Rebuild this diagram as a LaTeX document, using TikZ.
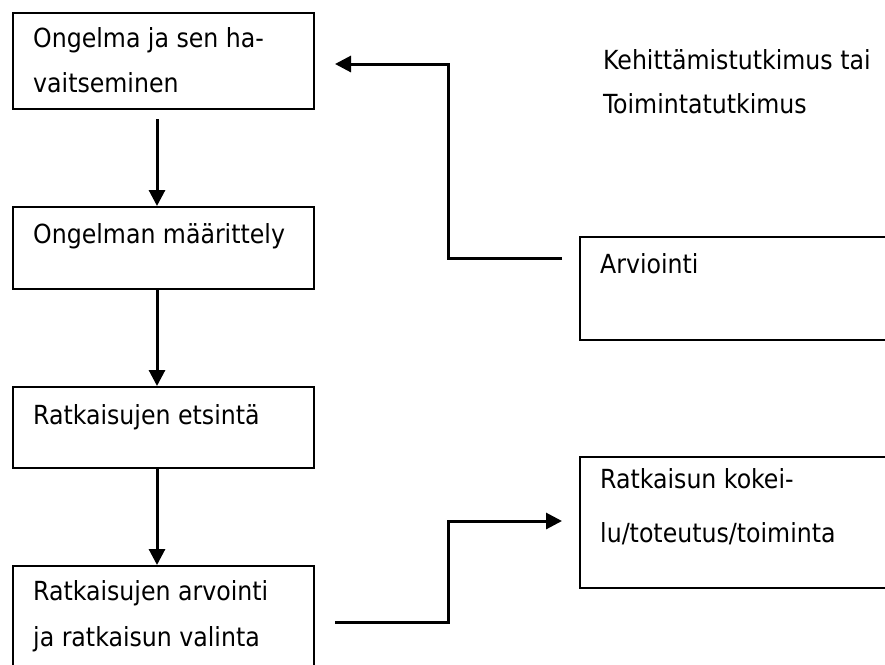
\documentclass[tikz,border=0pt]{standalone}
\usepackage{fontspec}
\setmainfont{DejaVu Sans Condensed}
\usetikzlibrary{arrows.meta,calc}
\begin{document}
\begin{tikzpicture}[x=1pt,y=-1pt,
  box/.style={draw=black,line width=2pt,rectangle,inner sep=0pt,anchor=north west},
  txt/.style={anchor=base west,inner sep=0pt,font=\fontsize{26.3}{30}\selectfont},
  conn/.style={line width=3pt,-{Triangle[length=16pt,width=16pt]}}]
\useasboundingbox (0,0) rectangle (885,664);
\clip (0,0) rectangle (885,664);
% boxes
\node[box,minimum width=301pt,minimum height=96pt] (b1) at (12,12) {};
\node[box,minimum width=301pt,minimum height=82pt] (b2) at (12,206) {};
\node[box,minimum width=301pt,minimum height=81pt] (b3) at (12,386) {};
\node[box,minimum width=301pt,minimum height=125pt] (b4) at (12,565) {};
\node[box,minimum width=330pt,minimum height=103pt] (arv) at (579,236) {};
\node[box,minimum width=330pt,minimum height=131pt] (rat) at (579,456) {};
% texts
\node[txt] (t1a) at (33,47) {Ongelma ja sen ha-};
\node[txt] (t1b) at (33,92) {vaitseminen};
\node[txt] (t2) at (33,243) {Ongelman määrittely};
\node[txt] (t3) at (33,424) {Ratkaisujen etsintä};
\node[txt] (t4a) at (33,600) {Ratkaisujen arvointi};
\node[txt] (t4b) at (33,646) {ja ratkaisun valinta};
\node[txt] (tarv) at (600,273) {Arviointi};
\node[txt] (trata) at (600,488) {Ratkaisun kokei-};
\node[txt] (tratb) at (600,542) {lu/toteutus/toiminta};
\node[txt] (kh1) at (603,69) {Kehittämistutkimus tai};
\node[txt] (kh2) at (603,113) {Toimintatutkimus};
% vertical arrows
\draw[conn] ($(b1.south west)+(145,9)$) -- ($(b2.north west)+(145,0)$);
\draw[conn] ($(b2.south west)+(145,0)$) -- ($(b3.north west)+(145,0)$);
\draw[conn] ($(b3.south west)+(145,0)$) -- ($(b4.north west)+(145,0)$);
% feedback from Arviointi
\coordinate (fbs) at ($(arv.north west)+(-17,22)$);
\coordinate (fbe) at ($(b1.north east)+(20,52)$);
\draw[conn] (fbs) -- (448,258) -- (448,64) -- (fbe);
% from selection to trial
\coordinate (trs) at ($(b4.north east)+(20,57)$);
\coordinate (tre) at ($(rat.north west)+(-17,65)$);
\draw[conn] (trs) -- (448,622) -- (448,521) -- (tre);
\end{tikzpicture}
\end{document}
